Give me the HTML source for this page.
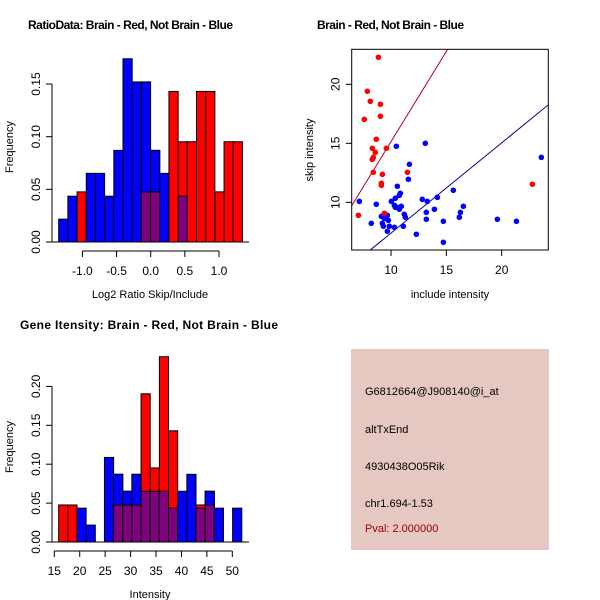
<!DOCTYPE html>
<html><head><meta charset="utf-8"><style>
body{margin:0;background:#fff}
svg{display:block;font-family:"Liberation Sans",sans-serif}
</style></head><body>
<svg id="c" width="600" height="600" viewBox="0 0 600 600" xmlns="http://www.w3.org/2000/svg">
<text x="28" y="29" font-size="12" font-weight="bold" textLength="205">RatioData: Brain - Red, Not Brain - Blue</text>
<text x="317" y="29" font-size="12" font-weight="bold" textLength="147">Brain - Red, Not Brain - Blue</text>
<text x="20" y="329" font-size="12" font-weight="bold" textLength="258">Gene Itensity: Brain - Red, Not Brain - Blue</text>
<g id="g1"></g>
<g id="g2"></g>
<g id="g3"></g>
<g>
<rect x="351" y="349" width="198" height="201" fill="#e5c8c1"/>
<text x="365" y="395" font-size="11">G6812664@J908140@i_at</text>
<text x="365" y="433" font-size="11">altTxEnd</text>
<text x="365" y="470" font-size="11">4930438O05Rik</text>
<text x="365" y="507" font-size="11">chr1.694-1.53</text>
<text x="365" y="532" font-size="11" fill="#a00000">Pval: 2.000000</text>
</g>
</svg>
<script>
// Ratio histogram data
const ratioBinStart = -1.347, ratioBinWidth = 0.1345;
const ratioBlue = [0.0217,0.0435,0,0.0652,0.0652,0.0435,0.087,0.174,0.152,0.152,0.087,0.0652,0,0.0435,0,0,0,0,0,0];
const ratioRed  = [0,0,0.0476,0,0,0,0,0,0,0.0476,0.0476,0,0.143,0.0952,0.0952,0.143,0.143,0.0476,0.0952,0.0952];
const ratioXTicks = [-1.0,-0.5,0.0,0.5,1.0];
const ratioXLabels = ["-1.0","-0.5","0.0","0.5","1.0"];
const ratioYTicks = [0,0.05,0.10,0.15];
const ratioYLabels = ["0.00","0.05","0.10","0.15"];
// Intensity histogram data
const intBinStart = 15.86, intBinWidth = 1.8;
const intBlue = [0,0,0.0435,0.0217,0,0.1087,0.087,0.0652,0.087,0.0652,0.0652,0.0652,0.0435,0.0652,0.087,0.0435,0.0652,0.0435,0,0.0435];
const intRed  = [0.0476,0.0476,0,0,0,0,0.0476,0.0476,0.0476,0.1905,0.0952,0.2381,0.1429,0,0,0.0476,0.0476,0,0,0];
const intXTicks = [15,20,25,30,35,40,45,50];
const intYTicks = [0,0.05,0.10,0.15,0.20];
const intYLabels = ["0.00","0.05","0.10","0.15","0.20"];
// Scatter data
const redX = [8.86,7.86,8.13,9.04,9.04,7.59,8.67,8.31,9.58,8.58,8.40,8.31,8.40,9.22,9.13,9.13,11.48,9.40,7.05,22.77];
const redY = [22.29,19.41,18.56,18.31,17.29,17.03,15.34,14.58,14.58,14.24,13.81,13.64,12.54,12.37,11.61,11.44,12.54,9.07,8.90,11.53];
const blueX = [7.14,13.10,10.48,10.57,11.66,11.57,10.84,10.75,10.39,10.03,10.30,10.57,10.93,10.75,10.39,8.67,11.20,11.30,13.28,12.83,14.19,15.63,13.92,13.19,13.19,9.13,9.67,9.40,9.76,9.22,9.31,9.85,10.30,9.67,11.11,12.29,14.73,14.73,16.17,16.27,16.54,19.61,21.33,23.58,8.22];
const blueY = [10.08,15.00,14.75,11.36,13.22,11.95,10.76,10.59,10.34,10.08,9.75,9.58,9.66,9.41,9.58,9.83,8.98,8.73,10.08,10.25,10.42,11.02,9.41,9.15,8.56,8.81,8.90,8.64,8.47,8.22,7.97,7.97,7.88,7.54,7.97,7.29,6.61,8.39,8.73,9.15,9.66,8.56,8.39,13.81,8.22];
const redLine = [-0.16,1.53];   // intercept, slope
const blueLine = [-0.26,0.765];
const scXTicks = [10,15,20];
const scYTicks = [10,15,20];

const NS="http://www.w3.org/2000/svg";
function mk(parent,tag,attrs){const e=document.createElementNS(NS,tag);for(const k in attrs)e.setAttribute(k,attrs[k]);parent.appendChild(e);return e;}
function txt(parent,x,y,s,size,anchor,rot){const t=mk(parent,'text',{x:x,y:y,'font-size':size,'text-anchor':anchor||'middle'});if(rot)t.setAttribute('transform','rotate(-90 '+x+' '+y+')');t.textContent=s;return t;}

function hist(g,o){
  const sx=v=>o.x0+(v-o.v0)*o.kx, sy=v=>o.base-v*o.ky;
  const n=o.blue.length;
  for(let i=0;i<n;i++){
    const a=sx(o.start+i*o.w), b=sx(o.start+(i+1)*o.w);
    const bl=o.blue[i], rd=o.red[i];
    if(bl>0){const r=mk(g,'rect',{x:a,y:sy(bl),width:b-a,height:sy(0)-sy(bl),fill:'#0000ff',stroke:'#000','stroke-width':1});
      
      }
    if(rd>0){const h=Math.min(bl,rd);
      const r=mk(g,'rect',{x:a,y:sy(rd),width:b-a,height:sy(0)-sy(rd),fill:'#ff0000',stroke:'#000','stroke-width':1});
      
      
      if(h>0){const p=mk(g,'rect',{x:a,y:sy(h),width:b-a,height:sy(0)-sy(h),fill:'#800080',stroke:'#000','stroke-width':1});
        
        }
      if(bl>rd){const r2=mk(g,'rect',{x:a,y:sy(bl),width:b-a,height:sy(rd)-sy(bl),fill:'#0000ff',stroke:'#000','stroke-width':1});
        
        }
    }
  }
  // x axis
  const xa=mk(g,'g',{});
  
  
  const ay=o.base+9;
  mk(xa,'line',{x1:sx(o.xt[0]),x2:sx(o.xt[o.xt.length-1]),y1:ay,y2:ay,stroke:'#000'});
  o.xt.forEach((v,i)=>{mk(xa,'line',{x1:sx(v),x2:sx(v),y1:ay,y2:ay+6,stroke:'#000'});txt(xa,sx(v),ay+24,o.xl[i],12);});
  // y axis
  const ya=mk(g,'g',{});
  
  
  const ax=o.axX;
  mk(ya,'line',{x1:ax,x2:ax,y1:sy(o.yt[0]),y2:sy(o.yt[o.yt.length-1]),stroke:'#000'});
  o.yt.forEach((v,i)=>{mk(ya,'line',{x1:ax-6,x2:ax,y1:sy(v),y2:sy(v),stroke:'#000'});txt(ya,ax-12,sy(v),o.yl[i],12,'middle',true);});
  // baseline
  mk(g,'line',{x1:o.blx1,x2:o.blx2,y1:o.base,y2:o.base,stroke:'#000'});
  const xt=txt(g,o.xtitleX,o.xtitleY,o.xtitle,11);
  
  
  const yt=txt(g,13,o.ytitleY,'Frequency',11,'middle',true);
  
  
}

hist(document.getElementById('g1'),{start:ratioBinStart,w:ratioBinWidth,blue:ratioBlue,red:ratioRed,
  x0:150.7,v0:0,kx:68.3,base:242,ky:1053,xt:ratioXTicks,xl:ratioXLabels,yt:ratioYTicks,yl:ratioYLabels,
  axX:52,blx1:52,blx2:249,xtitle:'Log2 Ratio Skip/Include',xtitleX:150,xtitleY:298,ytitleY:147});
hist(document.getElementById('g2'),{start:intBinStart,w:intBinWidth,blue:intBlue,red:intRed,
  x0:54.3,v0:15,kx:5.086,base:542,ky:778,xt:intXTicks,xl:intXTicks.map(String),yt:intYTicks,yl:intYLabels,
  axX:52,blx1:52,blx2:249,xtitle:'Intensity',xtitleX:150,xtitleY:598,ytitleY:447});

// Scatter
(function(){
  const g=document.getElementById('g3');
  const L=351.7,R=548.3,T=49.3,B=250;
  const sx=v=>391+(v-10)*11.07, sy=v=>202.3-(v-10)*11.8;
  const xmin=10+(L-391)/11.07, xmax=10+(R-391)/11.07;
  const ymin=10-(B-202.3)/11.8, ymax=10-(T-202.3)/11.8;
  const clip=mk(g,'clipPath',{id:'sc'});mk(clip,'rect',{x:L,y:T,width:R-L,height:B-T});
  const pg=mk(g,'g',{'clip-path':'url(#sc)'});
  [[redLine,'#b00020','red-fit-line'],[blueLine,'#00008b','blue-fit-line']].forEach(([ln,col,nm])=>{
    const l=mk(pg,'line',{x1:sx(xmin),y1:sy(ln[0]+ln[1]*xmin),x2:sx(xmax),y2:sy(ln[0]+ln[1]*xmax),stroke:col,'stroke-width':1});
    
    
  });
  blueX.forEach((x,i)=>{const c=mk(pg,'circle',{cx:sx(x),cy:sy(blueY[i]),r:2.8,fill:'#0000ff'});
    
    });
  redX.forEach((x,i)=>{const c=mk(pg,'circle',{cx:sx(x),cy:sy(redY[i]),r:2.8,fill:'#ff0000'});
    
    });
  const box=mk(g,'rect',{x:L,y:T,width:R-L,height:B-T,fill:'none',stroke:'#000'});
  
  
  scXTicks.forEach(v=>{mk(g,'line',{x1:sx(v),x2:sx(v),y1:B,y2:B+6,stroke:'#000'});txt(g,sx(v),B+24,String(v),12);});
  scYTicks.forEach(v=>{mk(g,'line',{x1:L-6,x2:L,y1:sy(v),y2:sy(v),stroke:'#000'});txt(g,L-12,sy(v),String(v),12,'middle',true);});
  const xt=txt(g,450,298,'include intensity',11);
  
  
  const yt=txt(g,313,150,'skip intensity',11,'middle',true);
  
  
})();
</script>
</body></html>
